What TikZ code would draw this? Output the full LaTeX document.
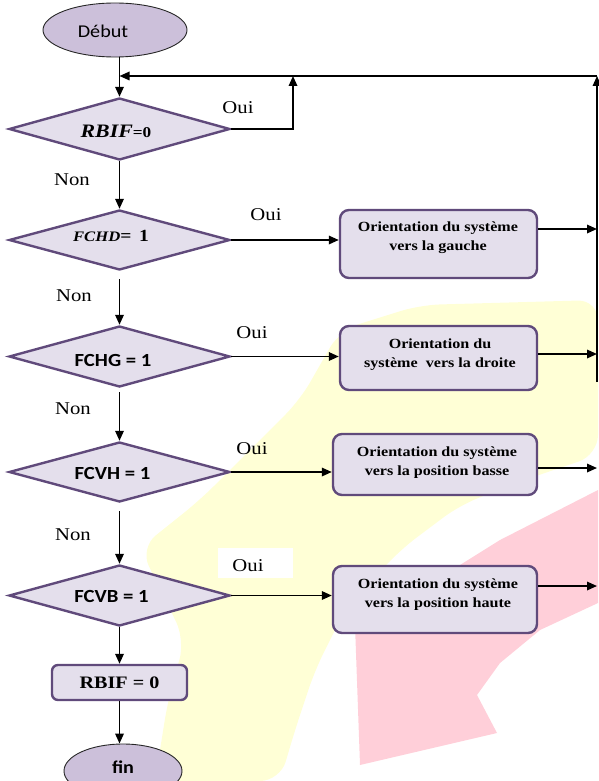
\documentclass[tikz,border=0pt]{standalone}
\usepackage{fontspec}
\setmainfont{Liberation Serif}[FakeStretch=1.15]
\newfontfamily\calfont{Carlito}[FakeStretch=1.12]
\usetikzlibrary{shapes.geometric,arrows.meta}
\definecolor{ellfill}{HTML}{CCC0DA}
\definecolor{boxfill}{HTML}{E4DFEC}
\definecolor{boxdraw}{HTML}{604A7B}
\definecolor{wmyellow}{HTML}{FFFFD6}
\definecolor{wmpink}{HTML}{FFCFD9}
\begin{document}
\begin{tikzpicture}[x=1pt,y=-1pt,
  arr/.style={line width=1.7pt,-{Triangle[length=10pt,width=8.5pt]}},
  term/.style={ellipse, draw=black!85, line width=0.9pt, fill=ellfill, inner sep=0pt},
  dec/.style={diamond, draw=boxdraw, line width=2.4pt, fill=boxfill, inner sep=0pt, minimum width=221pt},
  proc/.style={rectangle, rounded corners=9pt, draw=boxdraw, line width=2.4pt, fill=boxfill, inner sep=0pt},
  ptext/.style={font=\fontsize{14}{19}\selectfont\bfseries, align=center, inner sep=0pt},
  lbl/.style={font=\fontsize{18}{20}\selectfont, inner sep=0pt},
  stext/.style={font=\calfont\fontsize{18.5}{20}\selectfont\bfseries, inner sep=0pt},
]
\useasboundingbox (0,0) rectangle (598,781);
% watermark background
\fill[wmyellow, rounded corners=20pt] (155,781) -- (168,700) -- (185,640) -- (140,548) -- (200,500) -- (260,440) -- (300,400) -- (340,330) -- (420,305) -- (598,300)
  -- (598,455) -- (530,478) -- (460,505) -- (400,550) -- (345,610) -- (315,670) -- (295,730) -- (280,781) -- cycle;
\fill[wmpink] (355,625) -- (420,590) -- (500,540) -- (598,490) -- (598,603) -- (540,630) -- (500,663) -- (477,695) -- (497,733) -- (360,765) -- cycle;
\fill[white] (218,548) rectangle (293,578);

% terminals
\node[term, minimum width=144pt, minimum height=54pt,
  label={[font=\calfont\fontsize{18}{20}\selectfont, xshift=-12pt, yshift=-1pt]center:Début}] (start) at (115,30) {};
\node[term, minimum width=118pt, minimum height=54pt,
  label={[font=\calfont\fontsize{18}{20}\selectfont\bfseries, yshift=3.5pt]center:fin}] (fin) at (123,771) {};

% decisions
\node[dec, minimum height=62pt] (d1) at (119.5,129) {};
\node[dec, minimum height=60pt] (d2) at (119.5,240) {};
\node[dec, minimum height=61pt] (d3) at (119.5,356.5) {};
\node[dec, minimum height=60pt] (d4) at (119.5,472) {};
\node[dec, minimum height=61pt] (d5) at (119.5,595.5) {};

\node[inner sep=0pt] (t1) at (116,131) {\fontsize{19}{20}\selectfont\textbf{\textit{RBIF}}\fontsize{15}{17}\selectfont\textbf{=0}};
\node[inner sep=0pt] (t2) at (111,236) {\fontsize{14.5}{16}\selectfont\textbf{\textit{FCHD}}\fontsize{17}{18}\selectfont\textbf{= \,1}};
\node[stext] (t3) at (113,360) {FCHG = 1};
\node[stext] (t4) at (112.5,473.5) {FCVH = 1};
\node[stext] (t5) at (111.5,596.5) {FCVB = 1};

% process boxes
\node[proc, minimum width=197pt, minimum height=68pt] (b1) at (438.5,244) {};
\node[proc, minimum width=197pt, minimum height=64pt] (b2) at (438.5,358) {};
\node[proc, minimum width=204pt, minimum height=61pt] (b3) at (435,464.5) {};
\node[proc, minimum width=204pt, minimum height=67pt] (b4) at (435,599.5) {};
\node[ptext] (b1t) at (438,238) {Orientation du système\\vers la gauche};
\node[ptext] (b2t) at (440,355) {Orientation du\\système\ \ vers la droite};
\node[ptext] (b3t) at (437,462.5) {Orientation du système\\vers la position basse};
\node[ptext] (b4t) at (438,594.5) {Orientation du système\\vers la position haute};

\node[proc, rounded corners=6pt, minimum width=135pt, minimum height=35pt,
  font=\fontsize{17.5}{19}\selectfont\bfseries] (r) at (119.5,682.5) {RBIF = 0};

% labels
\node[lbl] (o1) at (238,108) {Oui};
\node[lbl] (o2) at (266,215) {Oui};
\node[lbl] (o3) at (252,333) {Oui};
\node[lbl] (o4) at (252,449) {Oui};
\node[lbl] (o5) at (248,566) {Oui};
\node[lbl] (n1) at (72,180) {Non};
\node[lbl] (n2) at (74,296) {Non};
\node[lbl] (n3) at (73,409) {Non};
\node[lbl] (n4) at (73,535) {Non};

% coordinates
\coordinate (loopR) at (597,76);
\coordinate (rbot) at (597,382);
\coordinate (ouiTop) at (293,76);
\coordinate (e1) at (597,229);
\coordinate (e2) at (597,354);
\coordinate (e3) at (597,468);
\coordinate (e4) at (597,586);

% connectors
\draw[arr] (start.south -| d1.north) -- (d1.north);
\draw[arr] (loopR) -- (loopR -| d1.north);
\draw[arr] (rbot) -- (loopR);
\draw[arr] (d1.east) -- (d1.east -| ouiTop) -- (ouiTop);
\draw[arr] (d1.south) -- (d2.north);
\draw[arr] ([yshift=-8pt]d2.south) -- (d3.north);
\draw[arr] ([yshift=-4pt]d3.south) -- (d4.north);
\draw[arr] ([yshift=-8pt]d4.south) -- (d5.north);
\draw[arr] (d5.south) -- (d5.south |- r.north);
\draw[arr] (r.south) -- (r.south |- fin.north);
\draw[arr] (d2.east) -- (d2.east -| b1.west);
\draw[arr] (d3.east) -- (d3.east -| b2.west);
\draw[arr] (d4.east) -- (d4.east -| b3.west);
\draw[arr] (d5.east) -- (d5.east -| b4.west);
\draw[arr] (b1.east |- e1) -- (e1);
\draw[arr] (b2.east |- e2) -- (e2);
\draw[arr] (b3.east |- e3) -- (e3);
\draw[arr] (b4.east |- e4) -- (e4);
\end{tikzpicture}
\end{document}
